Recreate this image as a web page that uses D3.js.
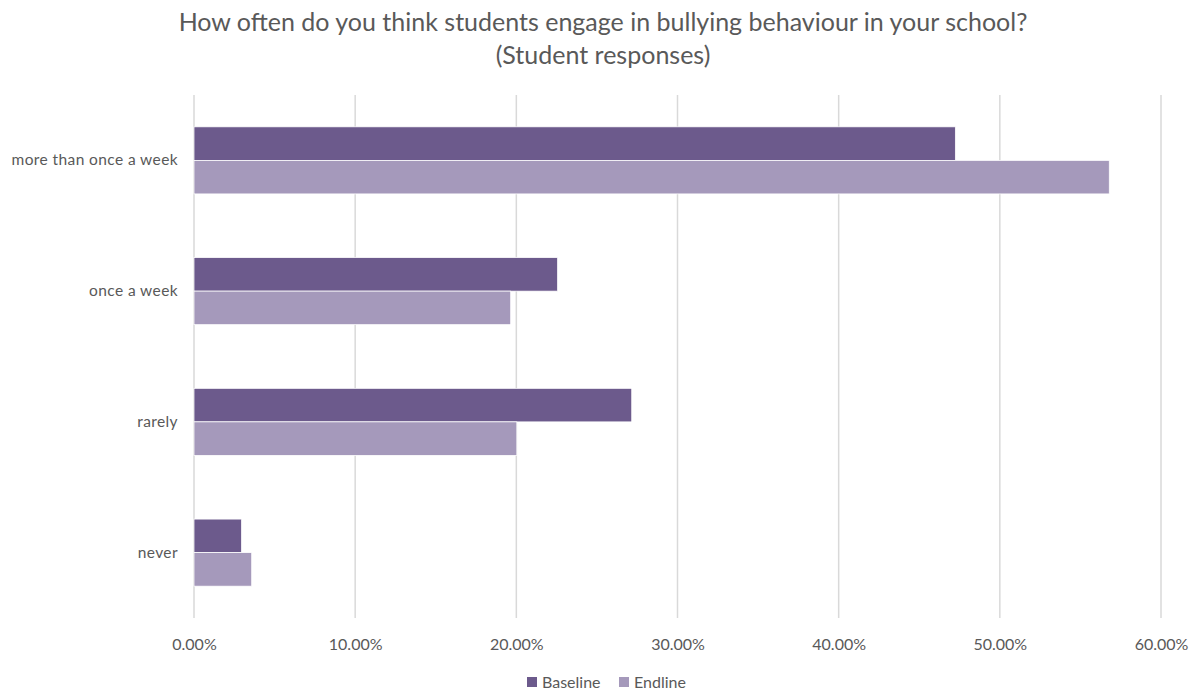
<!DOCTYPE html>
<html><head><meta charset="utf-8">
<script src="https://cdn.jsdelivr.net/npm/d3@7"></script>
<style>body{margin:0;background:#fff;} text{font-family:Lato, "Open Sans", sans-serif;}</style>
</head><body>
<svg id="c" width="1193" height="692"></svg>
<script>
const categories = ["more than once a week","once a week","rarely","never"];
const seriesNames = ["Baseline","Endline"];
const baseline = [0.4724, 0.2256, 0.2716, 0.0295];
const endline = [0.5679, 0.1965, 0.2003, 0.0358];
const xTicks = [0,0.1,0.2,0.3,0.4,0.5,0.6];
const titleLines = ["How often do you think students engage in bullying behaviour in your school?","(Student responses)"];
const colors = ["#6c5a8c","#a599bb"];

const svg = d3.select("#c");
const m = {l:194, r:1193-1161, t:95, b:692-618};
const W = 1193, H = 692;
const x = d3.scaleLinear().domain([0,0.6]).range([m.l, W-m.r]);
const y = d3.scaleBand().domain(categories).range([m.t, H-m.b]).paddingInner(0.487).paddingOuter(0.2435);
const ySub = d3.scaleBand().domain(seriesNames).range([0, y.bandwidth()]);

// gridlines
svg.append("g").selectAll("line").data(xTicks).join("line")
  .attr("x1", d=>x(d)).attr("x2", d=>x(d)).attr("y1", m.t).attr("y2", H-m.b)
  .attr("stroke", "#d9d9d9").attr("stroke-width", 1.5);

// bars
const data = [baseline, endline];
const g = svg.append("g");
seriesNames.forEach((s,i)=>{
  g.append("g").selectAll("rect").data(categories).join("rect")
    .attr("x", x(0)).attr("y", (c)=>y(c)+ySub(s))
    .attr("width", (c,j)=>x(data[i][j])-x(0)).attr("height", ySub.bandwidth())
    .attr("fill", colors[i]).attr("stroke","#ffffff").attr("stroke-width",0.75);
});

// x axis labels
const xAxis = d3.axisBottom(x).tickValues(xTicks).tickFormat(d3.format(".2%")).tickSize(0).tickPadding(0);
const xa = svg.append("g").attr("transform", `translate(0,${H-m.b+21})`).call(xAxis);
xa.select(".domain").remove();
xa.selectAll("text").attr("fill","#595959").attr("font-size","16px").attr("font-family","Lato, sans-serif");

// y axis labels
const yAxis = d3.axisLeft(y).tickSize(0).tickPadding(0);
const ya = svg.append("g").attr("transform", `translate(${m.l-16},0)`).call(yAxis);
ya.select(".domain").remove();
ya.selectAll("text").attr("fill","#595959").attr("font-size","15.5px").attr("letter-spacing","0.4px").attr("font-family","Lato, sans-serif");

// title
svg.append("g").selectAll("text").data(titleLines).join("text")
  .attr("x", 603).attr("y", (d,i)=>31+i*33).attr("text-anchor","middle")
  .attr("fill","#595959").attr("font-size","25px").text(d=>d);

// legend
const leg = svg.append("g");
const lx = [527, 619];
seriesNames.forEach((s,i)=>{
  leg.append("rect").attr("x", lx[i]).attr("y", 677).attr("width",10).attr("height",10).attr("fill",colors[i]);
  leg.append("text").attr("x", lx[i]+15).attr("y", 688).attr("fill","#595959").attr("font-size","16px").text(s);
});
</script>
</body></html>
